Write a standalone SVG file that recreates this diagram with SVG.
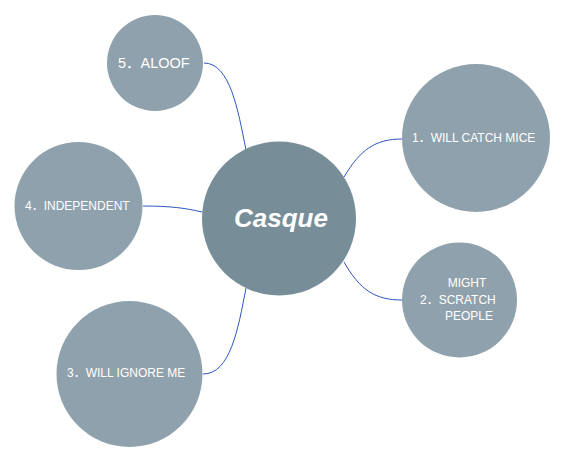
<svg xmlns="http://www.w3.org/2000/svg" width="566" height="463" viewBox="0 0 566 463">
<defs>
<style>
.node{fill:#8fa1ac;}
.center{fill:#778e99;}
.lbl{fill:#ffffff;font-family:"Liberation Sans","Noto Sans CJK SC",Arial,sans-serif;font-size:12px;}
.big{font-size:14.5px;}
.title{fill:#ffffff;font-family:"Liberation Sans",Arial,sans-serif;font-size:26px;font-weight:bold;font-style:italic;}
.conn{fill:none;stroke:#2f56c0;stroke-width:1;}
</style>
</defs>
<rect width="566" height="463" fill="#ffffff"/>
<g id="connectors">
<path class="conn" d="M344,177 C360,150 375,139 402,139"/>
<path class="conn" d="M344,262 C360,290 375,300 402,300"/>
<path class="conn" d="M246,288 C238,330 230,374 203,374"/>
<path class="conn" d="M143,206 C170,206 185,208 202,212"/>
<path class="conn" d="M204,63 C230,63 238,110 246,150"/>
</g>
<g id="node-center">
<circle class="center" cx="279" cy="218.5" r="77"/>
<text class="title" x="281" y="227" text-anchor="middle">Casque</text>
</g>
<g id="node-1">
<circle class="node" cx="476" cy="138" r="74"/>
<text class="lbl" x="412" y="142">1．WILL CATCH MICE</text>
</g>
<g id="node-2">
<circle class="node" cx="459.5" cy="300" r="57.5"/>
<text class="lbl" x="467" y="287" text-anchor="middle">MIGHT</text>
<text class="lbl" x="420" y="304">2．SCRATCH</text>
<text class="lbl" x="469" y="320" text-anchor="middle">PEOPLE</text>
</g>
<g id="node-3">
<circle class="node" cx="129.5" cy="374" r="73"/>
<text class="lbl" x="67" y="377">3．WILL IGNORE ME</text>
</g>
<g id="node-4">
<circle class="node" cx="78.5" cy="206" r="64"/>
<text class="lbl" x="25" y="210">4．INDEPENDENT</text>
</g>
<g id="node-5">
<circle class="node" cx="155" cy="63" r="48"/>
<text class="lbl big" x="118" y="68">5．ALOOF</text>
</g>
</svg>
